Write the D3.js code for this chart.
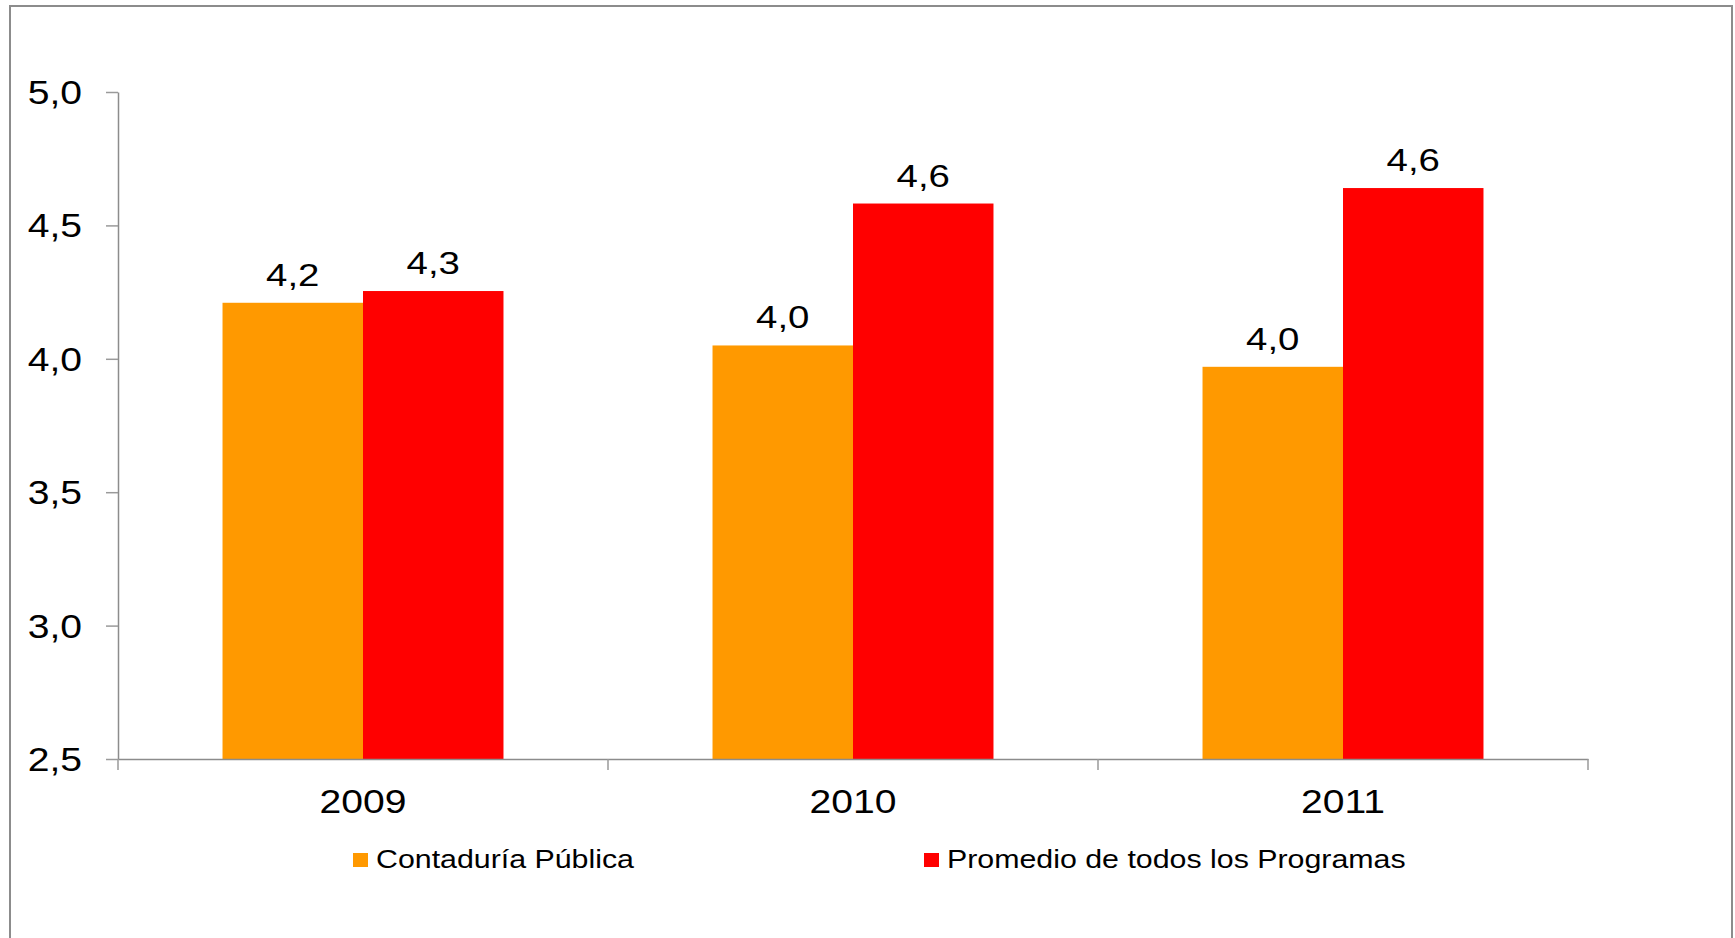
<!DOCTYPE html>
<html>
<head>
<meta charset="utf-8">
<script src="https://cdnjs.cloudflare.com/ajax/libs/d3/7.8.5/d3.min.js"></script>
<style>
  body { margin: 0; background: #fff; }
  text { font-family: "Liberation Sans", Arial, sans-serif; fill: #000; }
</style>
</head>
<body>
<div id="chart"></div>
<script>
var years = ["2009", "2010", "2011"];
var seriesNames = ["Contaduría Pública", "Promedio de todos los Programas"];
var contaduria = [4.21, 4.05, 3.97];
var promedio = [4.254, 4.582, 4.64];
var yTicks = [2.5, 3.0, 3.5, 4.0, 4.5, 5.0];
var colors = ["#FF9900", "#FF0000"];

var width = 1735, height = 938;
var svg = d3.select("#chart")
  .append("svg")
    .attr("width", width)
    .attr("height", height);

// outer frame
svg.append("rect")
    .attr("x", 10).attr("y", 6)
    .attr("width", 1722).attr("height", 950)
    .attr("fill", "none")
    .attr("stroke", "#8c8c8c")
    .attr("stroke-width", 2);

var esFormat = d3.formatLocale({decimal: ",", thousands: ".", grouping: [3], currency: ["", ""]}).format(".1f");

var x = d3.scaleBand()
    .domain(years)
    .range([118, 1588])
    .padding(0);

var xInner = d3.scaleBand()
    .domain([0, 1])
    .range([0, x.bandwidth()])
    .paddingInner(0)
    .paddingOuter(0.744);

var y = d3.scaleLinear()
    .domain([2.5, 5])
    .range([759, 92]);

var rows = years.map(function(yr, i) {
  return {year: yr, values: [contaduria[i], promedio[i]]};
});

// bars
var groups = svg.selectAll("g.year")
    .data(rows)
  .enter().append("g")
    .attr("class", "year")
    .attr("transform", function(d) { return "translate(" + x(d.year) + ",0)"; });

groups.selectAll("rect")
    .data(function(d) { return d.values; })
  .enter().append("rect")
    .attr("x", function(d, i) { return xInner(i); })
    .attr("y", function(d) { return y(d); })
    .attr("width", xInner.bandwidth())
    .attr("height", function(d) { return y(2.5) - y(d); })
    .attr("fill", function(d, i) { return colors[i]; });

groups.selectAll("text")
    .data(function(d) { return d.values; })
  .enter().append("text")
    .attr("text-anchor", "middle")
    .attr("font-size", 32)
    .attr("transform", function(d, i) {
      return "translate(" + (xInner(i) + xInner.bandwidth() / 2) + "," + (y(d) - 17) + ") scale(1.2,1)";
    })
    .text(function(d) { return esFormat(d); });

// y axis
var yAxis = svg.append("g")
    .attr("transform", "translate(118,0)")
    .call(d3.axisLeft(y).tickValues(yTicks).tickSize(12).tickSizeOuter(0).tickFormat(esFormat));
yAxis.select(".domain").attr("stroke", "#8c8c8c").attr("stroke-width", 1.5);
yAxis.selectAll(".tick line").attr("stroke", "#9a9a9a").attr("stroke-width", 1.5);
yAxis.selectAll(".tick text")
    .attr("x", 0)
    .attr("dy", null)
    .attr("dominant-baseline", "central")
    .attr("font-size", 34)
    .attr("font-family", "Liberation Sans, Arial, sans-serif")
    .attr("fill", "#000")
    .attr("transform", "translate(-36,0) scale(1.15,1)");

// x axis
var xAxis = svg.append("g")
    .attr("transform", "translate(0," + y(2.5) + ")")
    .call(d3.axisBottom(x).tickSize(0).tickSizeOuter(0).tickFormat(""));
xAxis.select(".domain").attr("stroke", "#8c8c8c").attr("stroke-width", 1.5);
xAxis.selectAll(".tick").remove();

xAxis.selectAll("line.sep")
    .data(years.map(function(d) { return x(d); }).concat([x.range()[1]]))
  .enter().append("line")
    .attr("class", "sep")
    .attr("x1", function(d) { return d; })
    .attr("x2", function(d) { return d; })
    .attr("y1", 0).attr("y2", 11)
    .attr("stroke", "#9a9a9a")
    .attr("stroke-width", 1.5);

xAxis.selectAll("text.cat")
    .data(years)
  .enter().append("text")
    .attr("class", "cat")
    .attr("text-anchor", "middle")
    .attr("font-size", 34)
    .attr("transform", function(d) {
      return "translate(" + (x(d) + x.bandwidth() / 2) + ",54) scale(1.15,1)";
    })
    .text(function(d) { return d; });

// legend
var legendX = [353, 924];
var legend = svg.selectAll("g.legend")
    .data(seriesNames)
  .enter().append("g")
    .attr("class", "legend")
    .attr("transform", function(d, i) { return "translate(" + legendX[i] + ",853)"; });

legend.append("rect")
    .attr("width", 15).attr("height", 14)
    .attr("fill", function(d, i) { return colors[i]; });

legend.append("text")
    .attr("font-size", 25.5)
    .attr("transform", "translate(23,15) scale(1.19,1)")
    .text(function(d) { return d; });
</script>
</body>
</html>
